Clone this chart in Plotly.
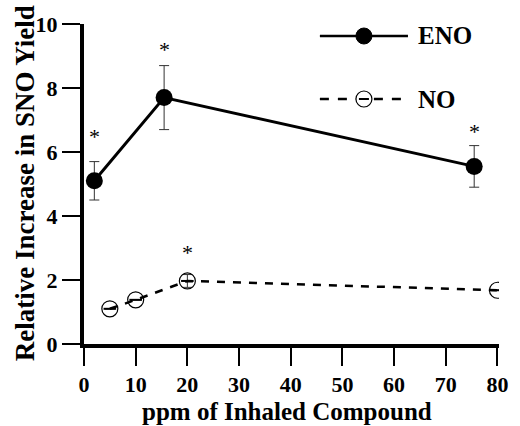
import plotly.graph_objects as go

# ---- data ----
eno_x = [2, 15.5, 75.5]
eno_y = [5.1, 7.7, 5.55]
eno_err = [0.6, 1.0, 0.65]
eno_star_y = [6.5, 9.2, 6.65]   # significance asterisks

no_x = [5, 10, 20, 80]
no_y = [1.1, 1.38, 1.97, 1.68]
no_err = [0.0, 0.0, 0.2, 0.0]
no_star_x = [20]
no_star_y = [2.85]

x_ticks = [0, 10, 20, 30, 40, 50, 60, 70, 80]
y_ticks = [0, 2, 4, 6, 8, 10]

FONT = "Liberation Serif"

fig = go.Figure()

# ENO series
fig.add_trace(go.Scatter(
    x=eno_x, y=eno_y, mode="lines+markers",
    line=dict(color="black", width=3),
    marker=dict(symbol="circle", size=17, color="black"),
    error_y=dict(type="data", array=eno_err, visible=True, color="#333", thickness=1, width=5),
    showlegend=False,
))

# NO series
fig.add_trace(go.Scatter(
    x=no_x, y=no_y, mode="lines+markers",
    line=dict(color="black", width=2.5, dash="8px,8px"),
    marker=dict(symbol="circle-open", size=16, color="black", line=dict(width=1.2)),
    error_y=dict(type="data", array=no_err, visible=True, color="#333", thickness=1, width=5),
    showlegend=False,
))
fig.add_trace(go.Scatter(
    x=no_x, y=no_y, mode="markers",
    marker=dict(symbol="line-ew", size=9, color="black", line=dict(width=2, color="black")),
    showlegend=False, hoverinfo="skip",
))

annotations = []
# asterisks
for x, y in zip(eno_x + no_star_x, eno_star_y + no_star_y):
    annotations.append(dict(x=x, y=y, text="*", showarrow=False, xanchor="center", yanchor="middle",
                            font=dict(family=FONT, size=22, color="black")))

W, H = 520, 426
L, R, T, B = 84, 12, 24, 82
pw, ph = W - L - R, H - T - B


def px2paper(px, py):
    return (px - L) / pw, (H - B - py) / ph


# Legend drawn manually
shapes = []
x0, y_eno = px2paper(325, 36)
x1, _ = px2paper(415, 36)
xc, _ = px2paper(370, 36)
_, y_no = px2paper(325, 99)
shapes.append(dict(type="line", xref="paper", yref="paper", x0=x0, x1=x1, y0=y_eno, y1=y_eno,
                   line=dict(color="black", width=2.5)))
shapes.append(dict(type="circle", xref="paper", yref="paper", xsizemode="pixel", ysizemode="pixel",
                   xanchor=xc, yanchor=y_eno, x0=-8, x1=8, y0=-8, y1=8,
                   fillcolor="black", line=dict(color="black", width=1)))
shapes.append(dict(type="line", xref="paper", yref="paper", x0=x0, x1=x1, y0=y_no, y1=y_no,
                   line=dict(color="black", width=2.5, dash="9px,9px")))
shapes.append(dict(type="circle", xref="paper", yref="paper", xsizemode="pixel", ysizemode="pixel",
                   xanchor=xc, yanchor=y_no, x0=-8, x1=8, y0=-8, y1=8,
                   fillcolor="white", line=dict(color="black", width=1.2)))
shapes.append(dict(type="line", xref="paper", yref="paper", xsizemode="pixel", ysizemode="pixel",
                   xanchor=xc, yanchor=y_no, x0=-5, x1=5, y0=0, y1=0,
                   line=dict(color="black", width=2)))

lx, _ = px2paper(423, 0)
annotations.append(dict(xref="paper", yref="paper", x=lx, y=y_eno, text="<b>ENO</b>", showarrow=False,
                        xanchor="left", yanchor="middle", font=dict(family=FONT, size=25, color="black")))
annotations.append(dict(xref="paper", yref="paper", x=lx, y=y_no, text="<b>NO</b>", showarrow=False,
                        xanchor="left", yanchor="middle", font=dict(family=FONT, size=25, color="black")))

# Axis titles
tx, ty = px2paper(24, 183)
annotations.append(dict(xref="paper", yref="paper", x=tx, y=ty, text="<b>Relative Increase in SNO Yield</b>",
                        textangle=-90, showarrow=False, xanchor="center", yanchor="middle",
                        font=dict(family=FONT, size=27, color="black")))
bx, by = px2paper(291, 411)
annotations.append(dict(xref="paper", yref="paper", x=bx, y=by, text="<b>ppm of Inhaled Compound</b>",
                        showarrow=False, xanchor="center", yanchor="middle",
                        font=dict(family=FONT, size=25, color="black")))

fig.update_layout(
    width=W, height=H,
    margin=dict(l=L, r=R, t=T, b=B),
    paper_bgcolor="white", plot_bgcolor="white",
    shapes=shapes, annotations=annotations,
    font=dict(family=FONT, color="black"),
    xaxis=dict(range=[0, 80.3], tickvals=x_ticks, ticktext=[f"<b>{v}</b>" for v in x_ticks],
               showgrid=False, zeroline=False, showline=True, linecolor="black", linewidth=4,
               ticks="outside", ticklen=18, tickwidth=2, tickcolor="black",
               tickfont=dict(family=FONT, size=22, color="black")),
    yaxis=dict(range=[0, 10], tickvals=y_ticks, ticktext=[f"<b>{v}</b>" for v in y_ticks],
               showgrid=False, zeroline=False, showline=True, linecolor="black", linewidth=4,
               ticks="outside", ticklen=18, tickwidth=2, tickcolor="black",
               tickfont=dict(family=FONT, size=22, color="black")),
)

fig.write_html("out.html")
